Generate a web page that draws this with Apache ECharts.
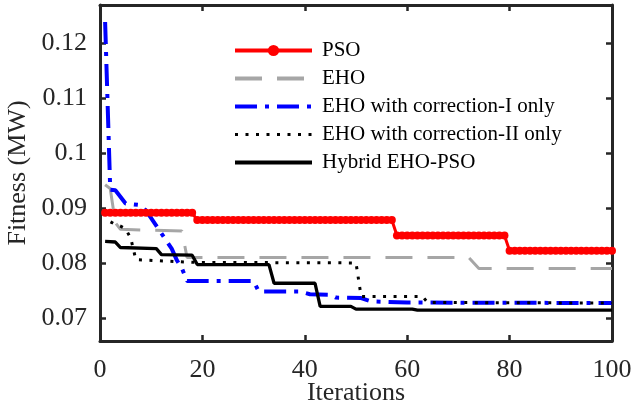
<!DOCTYPE html>
<html>
<head>
<meta charset="utf-8">
<title>Fitness convergence</title>
<script type="text/javascript" src="https://cdn.jsdelivr.net/npm/echarts@6/dist/echarts.min.js"></script>
</head>
<body style="margin:0;">

	<div id="main" style="width: 633px; height: 411px;"></div>

	<script type="text/javascript">
		var myChart = echarts.init(document.getElementById('main'));

		// PSO: one value per iteration (1..100)
		var psoFitness = [
			0.0891, 0.0891, 0.0891, 0.0891, 0.0891, 0.0891, 0.0891, 0.0891, 0.0891, 0.0891,
			0.0891, 0.0891, 0.0891, 0.0891, 0.0891, 0.0891, 0.0891, 0.0891, 0.0878, 0.0878,
			0.0878, 0.0878, 0.0878, 0.0878, 0.0878, 0.0878, 0.0878, 0.0878, 0.0878, 0.0878,
			0.0878, 0.0878, 0.0878, 0.0878, 0.0878, 0.0878, 0.0878, 0.0878, 0.0878, 0.0878,
			0.0878, 0.0878, 0.0878, 0.0878, 0.0878, 0.0878, 0.0878, 0.0878, 0.0878, 0.0878,
			0.0878, 0.0878, 0.0878, 0.0878, 0.0878, 0.0878, 0.0878, 0.0850, 0.0850, 0.0850,
			0.0850, 0.0850, 0.0850, 0.0850, 0.0850, 0.0850, 0.0850, 0.0850, 0.0850, 0.0850,
			0.0850, 0.0850, 0.0850, 0.0850, 0.0850, 0.0850, 0.0850, 0.0850, 0.0850, 0.0822,
			0.0822, 0.0822, 0.0822, 0.0822, 0.0822, 0.0822, 0.0822, 0.0822, 0.0822, 0.0822,
			0.0822, 0.0822, 0.0822, 0.0822, 0.0822, 0.0822, 0.0822, 0.0822, 0.0822, 0.0822 ];

		// the other curves only change at a few iterations
		var ehoIter = [ 1, 2, 3, 4, 16, 17, 72, 74, 100 ];
		var ehoFitness = [ 0.0942, 0.0935, 0.0873, 0.0861, 0.0858, 0.0810, 0.0810, 0.0790, 0.0790 ];

		var corr1Iter = [ 1, 2, 3, 5, 8, 9, 14, 15, 16, 17, 30, 31, 39, 41, 45, 46, 51, 53, 60, 100 ];
		var corr1Fitness = [ 0.1238, 0.0933, 0.0932, 0.0908, 0.0905, 0.0895, 0.0826, 0.0805, 0.0790, 0.0767,
				0.0767, 0.0748, 0.0748, 0.0743, 0.0742, 0.0737, 0.0736, 0.0730, 0.0728, 0.0727 ];

		var corr2Iter = [ 1, 2, 3, 4, 5, 6, 7, 18, 50, 51, 63, 64, 100 ];
		var corr2Fitness = [ 0.0891, 0.0875, 0.0870, 0.0867, 0.0862, 0.0845, 0.0806, 0.0801, 0.0800, 0.0739,
				0.0739, 0.0728, 0.0727 ];

		var hybridIter = [ 1, 3, 4, 11, 12, 18, 19, 33, 34, 42, 43, 49, 50, 61, 62, 100 ];
		var hybridFitness = [ 0.0839, 0.0838, 0.0828, 0.0826, 0.0815, 0.0814, 0.0797, 0.0797, 0.0763, 0.0763,
				0.0721, 0.0721, 0.0716, 0.0716, 0.0714, 0.0714 ];

		var seriesNames = [ 'PSO', 'EHO', 'EHO with correction-I only', 'EHO with correction-II only', 'Hybrid EHO-PSO' ];

		function pairs(xs, ys) {
			var out = [];
			for (var i = 0; i < xs.length; i++) {
				out.push([ xs[i], ys[i] ]);
			}
			return out;
		}

		var psoData = psoFitness.map(function(v, i) {
			return [ i + 1, v ];
		});

		var font = 'Liberation Serif';
		var axisColor = '#262626';

		// box axes: left/bottom carry labels, top/right only ticks
		function boxAxis(pos, extra) {
			var a = {
				type : 'value',
				position : pos,
				axisLine : { show : true, onZero : false, lineStyle : { color : axisColor, width : 3 } },
				axisTick : { show : true, inside : true, length : 6, lineStyle : { color : axisColor, width : 2.5 } },
				splitLine : { show : false },
				axisLabel : { show : false }
			};
			for (var k in extra) a[k] = extra[k];
			return a;
		}

		var labelStyle = {
			show : true,
			fontFamily : font,
			fontSize : 26,
			color : axisColor
		};

		// legend: thick icon lines, only PSO shows a marker
		var legendWidths = [ 4, 4, 4, 3, 4 ];
		var legendData = seriesNames.map(function(n, i) {
			var item = { name : n, lineStyle : { width : legendWidths[i] } };
			if (i > 0) item.itemStyle = { opacity : 0 };
			return item;
		});

		option = {
			animation : false,
			backgroundColor : '#fff',
			grid : {
				left : 100,
				right : 21,
				top : 5,
				bottom : 70,
				outerBoundsMode : 'none'
			},
			legend : {
				data : legendData,
				orient : 'vertical',
				left : 228,
				top : 35,
				itemWidth : 77,
				itemHeight : 14,
				itemGap : 7,
				textStyle : {
					fontFamily : font,
					fontSize : 21,
					lineHeight : 21,
					color : '#000',
					padding : [ 0, 0, 0, 5 ]
				}
			},
			xAxis : [
				boxAxis('bottom', {
					min : 0, max : 100, interval : 20,
					name : 'Iterations',
					nameLocation : 'middle',
					nameGap : 39,
					nameMoveOverlap : false,
					nameTextStyle : { fontFamily : font, fontSize : 26, color : axisColor },
					axisLabel : Object.assign({ margin : 16 }, labelStyle)
				}),
				boxAxis('top', { min : 0, max : 100, interval : 20 })
			],
			yAxis : [
				boxAxis('left', {
					min : 0.0658, max : 0.1269, splitNumber : 5,
					name : 'Fitness (MW)',
					nameLocation : 'middle',
					nameGap : 69,
					nameMoveOverlap : false,
					nameTextStyle : { fontFamily : font, fontSize : 26, color : axisColor },
					axisLabel : Object.assign({ margin : 13, showMinLabel : false, showMaxLabel : false }, labelStyle)
				}),
				boxAxis('right', { min : 0.0658, max : 0.1269, splitNumber : 5 })
			],
			series : [
				{
					name : seriesNames[0],
					type : 'line',
					data : psoData,
					symbol : 'circle',
					symbolSize : 8,
					color : '#ff0000',
					itemStyle : { color : '#ff0000' },
					lineStyle : { color : '#ff0000', width : 3 }
				}, {
					name : seriesNames[1],
					type : 'line',
					data : pairs(ehoIter, ehoFitness),
					showSymbol : false,
					symbol : 'none',
					color : '#a6a6a6',
					lineStyle : { color : '#a6a6a6', width : 3, type : [ 27, 15 ] }
				}, {
					name : seriesNames[2],
					type : 'line',
					data : pairs(corr1Iter, corr1Fitness),
					showSymbol : false,
					symbol : 'none',
					color : '#0000ff',
					lineStyle : { color : '#0000ff', width : 4, type : [ 22, 8, 4, 8 ] }
				}, {
					name : seriesNames[3],
					type : 'line',
					data : pairs(corr2Iter, corr2Fitness),
					showSymbol : false,
					symbol : 'none',
					color : '#000',
					lineStyle : { color : '#000', width : 3, type : [ 3, 7.5 ] }
				}, {
					name : seriesNames[4],
					type : 'line',
					data : pairs(hybridIter, hybridFitness),
					showSymbol : false,
					symbol : 'none',
					color : '#000',
					lineStyle : { color : '#000', width : 3.3 }
				}
			]
		};

		myChart.setOption(option);
	</script>

</body>
</html>
